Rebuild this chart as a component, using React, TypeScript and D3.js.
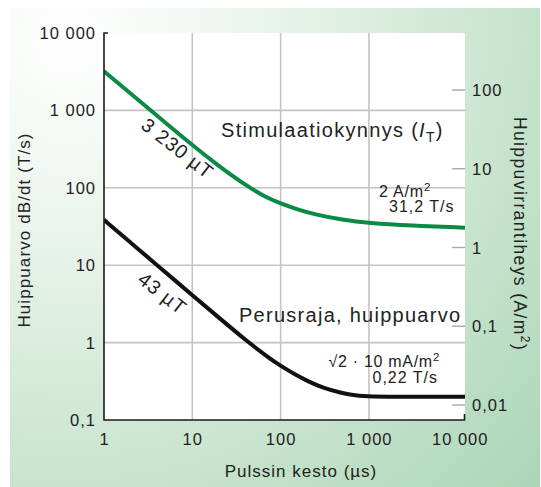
import React from "react";
import * as d3 from "d3";

const xTicks = [1, 10, 100, 1000, 10000];
const xTickLabels = ["1", "10", "100", "1 000", "10 000"];
const yLeftTicks = [0.1, 1, 10, 100, 1000, 10000];
const yLeftTickLabels = ["0,1", "1", "10", "100", "1 000", "10 000"];
const yRightTicks = [0.01, 0.1, 1, 10, 100];
const yRightTickLabels = ["0,01", "0,1", "1", "10", "100"];

// Stimulaatiokynnys (green)
const greenPulse = [1, 2, 4, 10, 20, 40, 70, 100, 150, 250, 500, 1000, 3000, 12250];
const greenValue = [3200, 1658, 851, 355, 190, 108, 74, 63, 53, 45, 38.5, 35, 32.5, 30.5];
// Perusraja, huippuarvo (black)
const blackPulse = [1, 2, 4, 10, 20, 40, 70, 100, 150, 200, 300, 500, 700, 1000, 3000, 12250];
const blackValue = [38.5, 19.6, 10.0, 4.1, 2.1, 1.08, 0.66, 0.5, 0.38, 0.32, 0.26, 0.222, 0.207, 0.2, 0.2, 0.2];

const FONT = "'Liberation Sans', Arial, Helvetica, sans-serif";

export default function App() {
  const left = 104, right = 465, top = 33, bottom = 420;
  const x = d3.scaleLog().domain([1, 12250]).range([left, right]);
  const yL = d3.scaleLog().domain([0.1, 10000]).range([bottom, top]);
  const yR = d3.scaleLog().domain([0.01, 100]).range([405, 90]);

  const line = d3
    .line<[number, number]>()
    .x((d) => x(d[0]))
    .y((d) => yL(d[1]))
    .curve(d3.curveBasis);

  const green = line(greenPulse.map((p, i) => [p, greenValue[i]]) as [number, number][]) || "";
  const black = line(blackPulse.map((p, i) => [p, blackValue[i]]) as [number, number][]) || "";

  const gridX = xTicks.filter((t) => t > 1 && t < 10000);
  const gridY = yLeftTicks.filter((t) => t > 0.1 && t < 10000);

  return (
    <svg
      width={541}
      height={487}
      style={{ position: "absolute", left: 0, top: 0 }}
      fontFamily={FONT}
    >
      <defs>
        <radialGradient id="bg" gradientUnits="userSpaceOnUse" cx={70} cy={40} r={640}>
          <stop offset="0" stopColor="#ffffff" />
          <stop offset="0.25" stopColor="#eef6ef" />
          <stop offset="0.6" stopColor="#d0e8d5" />
          <stop offset="1" stopColor="#acd6b7" />
        </radialGradient>
        <clipPath id="plot">
          <rect x={left} y={top} width={right - left} height={bottom - top} />
        </clipPath>
      </defs>
      <rect x={0} y={0} width={541} height={487} fill="#ffffff" />
      <rect x={10} y={8} width={530} height={479} fill="url(#bg)" />
      <rect x={left} y={top} width={right - left} height={bottom - top} fill="#ffffff" />

      {gridX.map((t) => (
        <line key={"gx" + t} x1={x(t)} x2={x(t)} y1={top} y2={bottom} stroke="#c4c4c4" strokeWidth={1.6} />
      ))}
      {gridY.map((t) => (
        <line key={"gy" + t} x1={left} x2={right} y1={yL(t)} y2={yL(t)} stroke="#c4c4c4" strokeWidth={1.6} />
      ))}
      {yRightTicks.map((t) => (
        <line key={"rt" + t} x1={452} x2={right} y1={yR(t)} y2={yR(t)} stroke="#a8a8a8" strokeWidth={1.4} />
      ))}

      <g clipPath="url(#plot)">
        <path d={green} fill="none" stroke="#0a8a43" strokeWidth={4} />
        <path d={black} fill="none" stroke="#111111" strokeWidth={4} />
      </g>

      {/* axes */}
      <path
        d={`M${left + 4},${top}H${left}V${bottom}H${right - 0.5}V${bottom - 6}`}
        fill="none"
        stroke="#1a1a1a"
        strokeWidth={1.6}
      />

      {/* left tick labels */}
      {yLeftTicks.map((t, i) => (
        <text key={"yl" + t} x={96} y={yL(t) + 6} textAnchor="end" fontSize={16.5} letterSpacing={1} fill="#222">
          {yLeftTickLabels[i]}
        </text>
      ))}
      {/* right tick labels */}
      {yRightTicks.map((t, i) => (
        <text key={"yr" + t} x={472} y={yR(t) + 6} textAnchor="start" fontSize={16.5} letterSpacing={1} fill="#222">
          {yRightTickLabels[i]}
        </text>
      ))}
      {/* bottom tick labels */}
      {xTicks.map((t, i) => (
        <text key={"xt" + t} x={x(t) + (t === 10000 ? 3 : 0.5)} y={445} textAnchor="middle" fontSize={16.5} letterSpacing={1} fill="#222">
          {xTickLabels[i]}
        </text>
      ))}

      {/* axis titles */}
      <text x={301} y={477} textAnchor="middle" fontSize={17} letterSpacing={1} fill="#222">
        Pulssin kesto (µs)
      </text>
      <text
        transform="translate(30,230) rotate(-90)"
        textAnchor="middle"
        fontSize={17}
        letterSpacing={1.1}
        fill="#222"
      >
        Huippuarvo dB/dt (T/s)
      </text>
      <text
        transform="translate(514,234) rotate(90)"
        textAnchor="middle"
        fontSize={17.5}
        letterSpacing={1.4}
        fill="#222"
      >
        Huippuvirrantiheys (A/m<tspan fontSize={12} dy={-7}>2</tspan>
        <tspan dy={7}>)</tspan>
      </text>

      {/* curve labels */}
      <text x={221} y={137} fontSize={20} letterSpacing={1.3} fill="#222">
        Stimulaatiokynnys (<tspan fontStyle="italic">I</tspan>
        <tspan fontSize={14} dy={5}>T</tspan>
        <tspan dy={-5}>)</tspan>
      </text>
      <text x={239} y={322} fontSize={20} letterSpacing={1.27} fill="#222">
        Perusraja, huippuarvo
      </text>
      <text transform="translate(177,149) rotate(38)" textAnchor="middle" y={6} fontSize={19.5} letterSpacing={1} fill="#222">
        3 230 µT
      </text>
      <text transform="translate(162,294) rotate(38)" textAnchor="middle" y={6} fontSize={19.5} letterSpacing={1} fill="#222">
        43 µT
      </text>

      <text x={379} y={197} fontSize={16} letterSpacing={0.8} fill="#222">
        2 A/m<tspan fontSize={11.5} dy={-6}>2</tspan>
      </text>
      <text x={389} y={212} fontSize={16} letterSpacing={1} fill="#222">
        31,2 T/s
      </text>
      <text x={440} y={367} textAnchor="end" fontSize={16} letterSpacing={0.7} fill="#222">
        √2 · 10 mA/m<tspan fontSize={11.5} dy={-6}>2</tspan>
      </text>
      <text x={438} y={383} textAnchor="end" fontSize={16} letterSpacing={1} fill="#222">
        0,22 T/s
      </text>
    </svg>
  );
}
